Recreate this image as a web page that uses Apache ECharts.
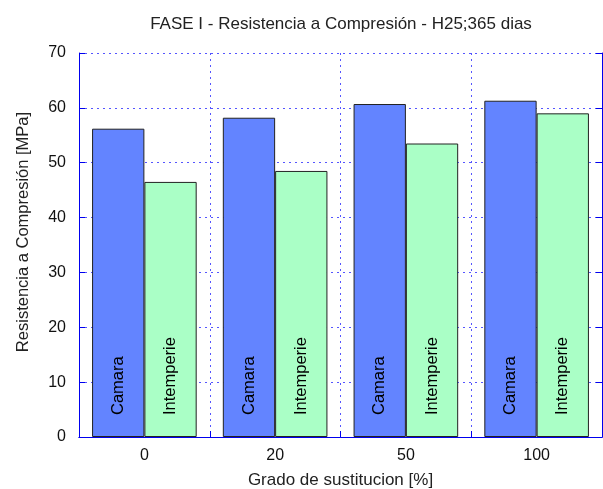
<!DOCTYPE html>
<html><head><meta charset="utf-8">
<script src="https://cdn.jsdelivr.net/npm/echarts@6/dist/echarts.min.js"></script>
<style>html,body{margin:0;padding:0;background:#fff}#c{width:603px;height:489px}</style>
</head><body><div id="c"></div>
<script>
const categories = ['0', '20', '50', '100'];
const camara = [56.2, 58.2, 60.7, 61.3];
const intemperie = [46.5, 48.5, 53.5, 59.0];
const seriesNames = ['Camara', 'Intemperie'];
const yTicks = [0, 10, 20, 30, 40, 50, 60, 70];

const font = 'Liberation Sans, Arial, sans-serif';
const chart = echarts.init(document.getElementById('c'), null, {renderer: 'canvas'});
const barLabel = (name) => ({
  show: true, position: 'insideBottom', rotate: 90, align: 'left', verticalAlign: 'middle',
  distance: 22, formatter: name, color: '#000', fontSize: 16.5, fontFamily: font
});
chart.setOption({
  animation: false,
  title: {text: 'FASE I - Resistencia a Compresión - H25;365 dias', left: 336, textAlign: 'center', top: 11,
    textStyle: {fontSize: 17, fontWeight: 'normal', color: '#222', fontFamily: font}},
  grid: {left: 79, right: 1, top: 53, bottom: 52, containLabel: false, outerBoundsMode: 'none'},
  graphic: [{
    type: 'text', x: 23, y: 232, rotation: Math.PI / 2,
    style: {text: 'Resistencia a Compresión [MPa]', fontSize: 16.5, fill: '#222', fontFamily: font,
      align: 'center', verticalAlign: 'middle'}
  }],
  xAxis: [{
    type: 'category', data: categories, boundaryGap: true,
    name: 'Grado de sustitucion [%]', nameLocation: 'middle', nameGap: 35,
    nameTextStyle: {fontSize: 17, color: '#222', fontFamily: font},
    axisLine: {show: true, lineStyle: {color: '#0000ee', width: 1}},
    axisTick: {show: true, inside: true, length: 6, lineStyle: {color: '#0000ee'}},
    axisLabel: {fontSize: 16, color: '#111', margin: 11, fontFamily: font},
    splitLine: {show: true, lineStyle: {color: '#5555ff', type: [2, 4], width: 1}}
  }, {
    type: 'category', data: categories, position: 'top',
    axisLine: {show: true, lineStyle: {color: '#0000ee'}},
    axisTick: {show: false},
    axisLabel: {show: false}, splitLine: {show: false}
  }],
  yAxis: [{
    type: 'value', min: 0, max: 70, interval: 10,
    axisLine: {show: true, lineStyle: {color: '#0000ee', width: 1}},
    axisTick: {show: true, inside: true, length: 6, lineStyle: {color: '#0000ee'}},
    axisLabel: {fontSize: 16, color: '#111', margin: 13, fontFamily: font,
      formatter: (v) => yTicks.includes(v) ? String(v) : ''},
    splitLine: {show: true, lineStyle: {color: '#5555ff', type: [2, 4], width: 1}}
  }, {
    type: 'value', min: 0, max: 70, interval: 10, position: 'right',
    axisLine: {show: true, lineStyle: {color: '#0000ee'}},
    axisTick: {show: true, inside: true, length: 6, lineStyle: {color: '#0000ee'}},
    axisLabel: {show: false}, splitLine: {show: false}
  }],
  series: [{
    name: seriesNames[0], type: 'bar', data: camara, barWidth: '40%', barGap: '0%',
    itemStyle: {color: '#6384ff', borderColor: '#222', borderWidth: 1},
    label: barLabel(seriesNames[0])
  }, {
    name: seriesNames[1], type: 'bar', data: intemperie, barWidth: '40%', barGap: '0%',
    itemStyle: {color: '#aaffc6', borderColor: '#222', borderWidth: 1},
    label: barLabel(seriesNames[1])
  }]
});
</script></body></html>
